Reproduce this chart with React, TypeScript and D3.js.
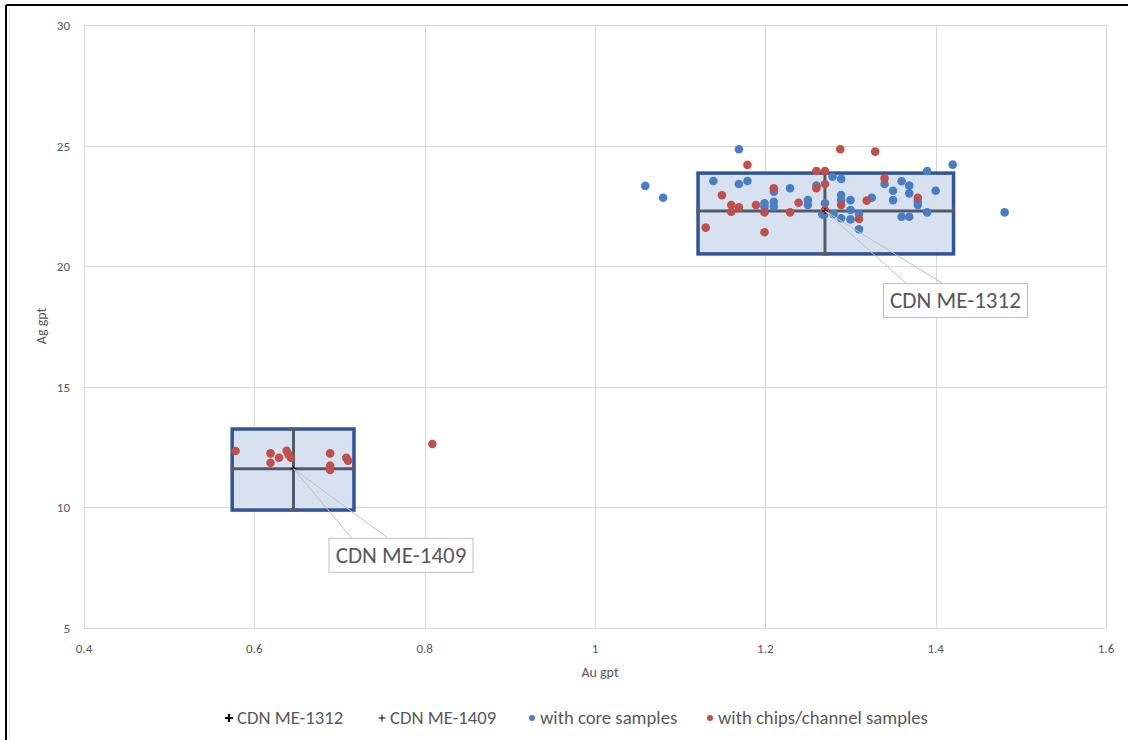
import { useEffect, useRef } from 'react'
import * as d3 from 'd3'

// core samples (blue)
const coreAu = [1.169, 1.059, 1.08, 1.139, 1.169, 1.179, 1.199, 1.199, 1.21, 1.21, 1.21, 1.229, 1.25, 1.25, 1.26, 1.27, 1.267, 1.279, 1.289, 1.39, 1.34, 1.36, 1.369, 1.35, 1.369, 1.4, 1.289, 1.289, 1.3, 1.325, 1.379, 1.379, 1.35, 1.269, 1.28, 1.289, 1.3, 1.3, 1.31, 1.31, 1.36, 1.369, 1.39, 1.481, 1.42]
const coreAg = [24.85, 23.33, 22.84, 23.53, 23.41, 23.53, 22.61, 22.47, 22.67, 22.47, 23.09, 23.23, 22.74, 22.54, 23.34, 22.61, 22.15, 23.71, 23.62, 23.95, 23.41, 23.52, 23.34, 23.13, 23.02, 23.13, 22.95, 22.74, 22.74, 22.84, 22.67, 22.54, 22.74, 22.12, 22.16, 21.99, 22.33, 21.94, 22.16, 21.53, 22.05, 22.05, 22.23, 22.23, 24.21]

// chips / channel samples (red)
const chipAu = [1.179, 1.149, 1.16, 1.16, 1.169, 1.189, 1.199, 1.21, 1.239, 1.229, 1.199, 1.13, 1.26, 1.26, 1.27, 1.27, 1.27, 1.288, 1.329, 1.34, 1.319, 1.379, 1.289, 1.31,
  0.578, 0.619, 0.619, 0.629, 0.638, 0.64, 0.643, 0.689, 0.689, 0.689, 0.708, 0.71, 0.809]
const chipAg = [24.2, 22.94, 22.54, 22.26, 22.44, 22.54, 22.23, 23.23, 22.63, 22.23, 21.41, 21.6, 23.23, 23.95, 23.95, 23.41, 22.33, 24.85, 24.75, 23.64, 22.72, 22.84, 22.54, 21.96,
  12.34, 12.24, 11.85, 12.06, 12.35, 12.2, 12.06, 12.24, 11.73, 11.55, 12.06, 11.94, 12.63]

// standards
const stdNames = ['CDN ME-1312', 'CDN ME-1409']
const stdAu = [1.27, 0.646]
const stdAg = [22.29, 11.6]
const stdAuLow = [1.121, 0.574]
const stdAuHigh = [1.421, 0.717]
const stdAgLow = [20.51, 9.89]
const stdAgHigh = [23.86, 13.25]

const xTicks = [0.4, 0.6, 0.8, 1, 1.2, 1.4, 1.6]
const yTicks = [5, 10, 15, 20, 25, 30]

const legendItems = ['CDN ME-1312', 'CDN ME-1409', 'with core samples', 'with chips/channel samples']

export default function App() {
  const svgRef = useRef<SVGSVGElement>(null)

  useEffect(() => {
    if (!svgRef.current) return
    const svg = d3.select(svgRef.current)
    svg.selectAll('*').remove()

    const font = "Carlito, Calibri, 'Liberation Sans Narrow', 'Liberation Sans', sans-serif"
    const textColor = '#595959'

    const x = d3.scaleLinear().domain([0.4, 1.6]).range([84, 1106])
    const y = d3.scaleLinear().domain([5, 30]).range([628, 25])

    svg.append('rect').attr('width', 1128).attr('height', 740).attr('fill', '#fff')

    // outer frame (top and left edges)
    svg.append('line').attr('x1', 6).attr('x2', 1128).attr('y1', 5).attr('y2', 5)
      .attr('stroke', '#000').attr('stroke-width', 2)
    svg.append('line').attr('x1', 6).attr('x2', 6).attr('y1', 5).attr('y2', 740)
      .attr('stroke', '#000').attr('stroke-width', 2)
    svg.append('line').attr('x1', 9.5).attr('x2', 9.5).attr('y1', 7).attr('y2', 740)
      .attr('stroke', '#e6e6e6').attr('stroke-width', 1)

    // gridlines
    const grid = svg.append('g')
    grid.selectAll('.gx').data(xTicks).enter().append('line')
      .attr('x1', d => Math.round(x(d)) + 0.5).attr('x2', d => Math.round(x(d)) + 0.5)
      .attr('y1', y(30)).attr('y2', y(5))
      .attr('stroke', '#d9d9d9')
    grid.selectAll('.gy').data(yTicks).enter().append('line')
      .attr('y1', d => Math.round(y(d)) + 0.5).attr('y2', d => Math.round(y(d)) + 0.5)
      .attr('x1', x(0.4)).attr('x2', x(1.6))
      .attr('stroke', '#d9d9d9')

    // tick labels
    svg.selectAll('.tx').data(xTicks).enter().append('text')
      .attr('x', d => x(d)).attr('y', 653)
      .attr('text-anchor', 'middle')
      .style('font-family', font).style('font-size', '13px').style('fill', textColor)
      .text(d => d3.format('')(d))
    svg.selectAll('.ty').data(yTicks).enter().append('text')
      .attr('x', 70).attr('y', d => y(d) + 5)
      .attr('text-anchor', 'end')
      .style('font-family', font).style('font-size', '13px').style('fill', textColor)
      .text(d => d)

    // axis titles
    svg.append('text').attr('x', 600).attr('y', 677).attr('text-anchor', 'middle')
      .style('font-family', font).style('font-size', '14px').style('fill', textColor)
      .text('Au gpt')
    svg.append('text').attr('transform', 'translate(46,326) rotate(-90)').attr('text-anchor', 'middle')
      .style('font-family', font).style('font-size', '14px').style('fill', textColor)
      .text('Ag gpt')

    // standard boxes
    const idx = stdNames.map((_, i) => i)
    svg.selectAll('.box').data(idx).enter().append('rect')
      .attr('x', i => x(stdAuLow[i])).attr('y', i => y(stdAgHigh[i]))
      .attr('width', i => x(stdAuHigh[i]) - x(stdAuLow[i]))
      .attr('height', i => y(stdAgLow[i]) - y(stdAgHigh[i]))
      .attr('fill', '#d6dfee').attr('fill-opacity', 0.95)
      .attr('stroke', '#2f5597').attr('stroke-width', 3.5)

    // error bars
    const eb = svg.append('g').attr('stroke', '#525c68').attr('stroke-width', 3)
    idx.forEach(i => {
      const cx = x(stdAu[i]), cy = y(stdAg[i])
      const x0 = x(stdAuLow[i]), x1 = x(stdAuHigh[i])
      const y0 = y(stdAgHigh[i]), y1 = y(stdAgLow[i])
      eb.append('line').attr('x1', x0).attr('x2', x1).attr('y1', cy).attr('y2', cy)
      eb.append('line').attr('x1', cx).attr('x2', cx).attr('y1', y0).attr('y2', y1)
      eb.append('line').attr('x1', x0).attr('x2', x0).attr('y1', cy - 4).attr('y2', cy + 4)
      eb.append('line').attr('x1', x1).attr('x2', x1).attr('y1', cy - 4).attr('y2', cy + 4)
      eb.append('line').attr('x1', cx - 4).attr('x2', cx + 4).attr('y1', y0).attr('y2', y0)
      eb.append('line').attr('x1', cx - 4).attr('x2', cx + 4).attr('y1', y1).attr('y2', y1)
    })

    // sample points
    svg.selectAll('.core').data(coreAu).enter().append('circle')
      .attr('cx', (d) => x(d)).attr('cy', (_, i) => y(coreAg[i]))
      .attr('r', 4.3).attr('fill', '#4a7ec4')
    svg.selectAll('.chip').data(chipAu).enter().append('circle')
      .attr('cx', (d) => x(d)).attr('cy', (_, i) => y(chipAg[i]))
      .attr('r', 4.3).attr('fill', '#c0504d')

    // centre markers
    idx.forEach(i => {
      const cx = x(stdAu[i]), cy = y(stdAg[i])
      svg.append('path').attr('d', `M${cx - 3},${cy}H${cx + 3}M${cx},${cy - 3}V${cy + 3}`)
        .attr('stroke', '#000').attr('stroke-width', 1)
    })

    // callouts (offsets from anchor, in px)
    const callouts = [{ dx: 58, dy: 72 }, { dx: 35, dy: 69 }]
    idx.forEach(i => {
      const ax = x(stdAu[i]), ay = y(stdAg[i])
      const bx = ax + callouts[i].dx, by = ay + callouts[i].dy
      const w = 144, h = 34
      svg.append('path')
        .attr('d', `M${bx + 23},${by}L${ax},${ay}L${bx + 59},${by}`)
        .attr('fill', 'none').attr('stroke', '#bfbfbf').attr('stroke-width', 1)
      svg.append('rect').attr('x', bx + 0.5).attr('y', by + 0.5).attr('width', w).attr('height', h)
        .attr('fill', '#fff').attr('stroke', '#bfbfbf').attr('stroke-width', 1)
      svg.append('text').attr('x', bx + w / 2 + 0.5).attr('y', by + 25)
        .attr('text-anchor', 'middle')
        .style('font-family', font).style('font-size', '23px').style('fill', textColor)
        .text(stdNames[i])
    })

    // legend
    const lg = svg.append('g').style('font-family', font).style('font-size', '18.7px').style('fill', textColor)
    const lx = [229, 382, 532, 710]
    const ly = 718
    lg.append('path').attr('d', `M${lx[0] - 4},${ly}H${lx[0] + 4}M${lx[0]},${ly - 4}V${ly + 4}`)
      .attr('stroke', '#000').attr('stroke-width', 2.2)
    lg.append('path').attr('d', `M${lx[1] - 3.5},${ly}H${lx[1] + 3.5}M${lx[1]},${ly - 3.5}V${ly + 3.5}`)
      .attr('stroke', '#000').attr('stroke-width', 1)
    lg.append('circle').attr('cx', lx[2]).attr('cy', ly).attr('r', 3).attr('fill', '#4a7ec4')
    lg.append('circle').attr('cx', lx[3]).attr('cy', ly).attr('r', 3).attr('fill', '#c0504d')
    legendItems.forEach((t, i) => {
      lg.append('text').attr('x', lx[i] + 8).attr('y', ly + 6).text(t)
    })
  }, [])

  return (
    <div style={{ position: 'absolute', left: 0, top: 0 }}>
      <svg ref={svgRef} width={1128} height={740} style={{ display: 'block' }}></svg>
    </div>
  )
}
